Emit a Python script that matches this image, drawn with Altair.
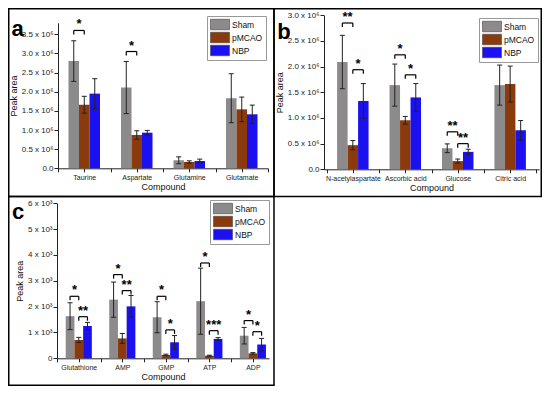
import altair as alt
import pandas as pd

series = ["Sham", "pMCAO", "NBP"]
series_colors = ["#8d8a8c", "#8b3a0e", "#1a10f0"]

# ---- panel a (peak area, units of 10^6) ----
a_compounds = ["Taurine", "Aspartate", "Glutamine", "Glutamate"]
a_sham = [2.80, 2.11, 0.21, 1.83]
a_sham_err = [0.53, 0.68, 0.09, 0.64]
a_pmcao = [1.66, 0.87, 0.165, 1.54]
a_pmcao_err = [0.22, 0.11, 0.03, 0.32]
a_nbp = [1.95, 0.93, 0.19, 1.41]
a_nbp_err = [0.39, 0.06, 0.05, 0.24]
# (compound index, first series, second series, bracket level, label)
a_sig = [(0, 0, 1, 3.60, "*"), (1, 0, 1, 3.05, "*")]

# ---- panel b (peak area, units of 10^6) ----
b_compounds = ["N-acetylaspartate", "Ascorbic acid", "Glucose", "Citric acid"]
b_sham = [2.09, 1.64, 0.41, 1.64]
b_sham_err = [0.52, 0.41, 0.085, 0.39]
b_pmcao = [0.47, 0.955, 0.16, 1.66]
b_pmcao_err = [0.09, 0.075, 0.04, 0.35]
b_nbp = [1.33, 1.40, 0.34, 0.76]
b_nbp_err = [0.34, 0.27, 0.05, 0.19]
b_sig = [(0, 0, 1, 2.85, "**"), (0, 1, 2, 1.94, "*"),
         (1, 0, 1, 2.23, "*"), (1, 1, 2, 1.84, "*"),
         (2, 0, 1, 0.73, "**"), (2, 1, 2, 0.50, "**")]

# ---- panel c (peak area, units of 10^3) ----
c_compounds = ["Glutathione", "AMP", "GMP", "ATP", "ADP"]
c_sham = [1.63, 2.27, 1.59, 2.21, 0.875]
c_sham_err = [0.52, 0.68, 0.60, 1.28, 0.32]
c_pmcao = [0.71, 0.77, 0.13, 0.10, 0.19]
c_pmcao_err = [0.10, 0.19, 0.03, 0.02, 0.03]
c_nbp = [1.25, 2.01, 0.62, 0.75, 0.53]
c_nbp_err = [0.14, 0.42, 0.26, 0.05, 0.24]
c_sig = [(0, 0, 1, 2.40, "*"), (0, 1, 2, 1.61, "**"),
         (1, 0, 1, 3.24, "*"), (1, 1, 2, 2.62, "**"),
         (2, 0, 1, 2.40, "*"), (2, 1, 2, 1.10, "*"),
         (3, 0, 1, 3.69, "*"), (3, 1, 2, 1.07, "***"),
         (4, 0, 1, 1.46, "*"), (4, 1, 2, 1.03, "*")]

BAR_W = 0.2
W, H = 534, 378


def frames(compounds, means, errs, sig):
    rows = []
    for si, s in enumerate(series):
        for gi, c in enumerate(compounds):
            cx = gi + (si - 1) * BAR_W
            m, e = means[si][gi], errs[si][gi]
            rows.append(dict(series=s, compound=c, cx=cx, x0=cx - BAR_W / 2,
                             x1=cx + BAR_W / 2, mean=m, lo=m - e, hi=m + e))
    br, legs = [], []
    for gi, s1, s2, level, label in sig:
        x0 = gi + (s1 - 1) * BAR_W
        x1 = gi + (s2 - 1) * BAR_W
        br.append(dict(x0=x0, x1=x1, xm=(x0 + x1) / 2, level=level, label=label))
        legs.append(dict(x=x0, level=level))
        legs.append(dict(x=x1, level=level))
    return pd.DataFrame(rows), pd.DataFrame(br), pd.DataFrame(legs)


def make_panel(compounds, means, errs, sig, ydom, yvals, ylab, xdom,
               xrange, yrange, leg_xy):
    bars, br, legs = frames(compounds, means, errs, sig)
    xs = alt.Scale(domain=xdom, range=xrange, nice=False, zero=False)
    ys = alt.Scale(domain=ydom, range=yrange, nice=False, zero=False)
    names = "[" + ",".join("'" + c + "'" for c in compounds) + "]"
    xticks = [i * 0.5 - 0.5 for i in range(2 * len(compounds) + 1)]
    xaxis = alt.Axis(values=xticks, title="Compound", grid=False, orient="bottom",
                     offset=yrange[0] - H, position=0,
                     labelExpr="datum.value % 1 === 0 ? " + names + "[datum.value] : ''",
                     labelOverlap=False, labelFlush=False, labelAngle=0,
                     labelFontSize=7, tickSize=3.5, labelPadding=2, titlePadding=2)
    yaxis = alt.Axis(values=yvals, labelExpr=ylab, title="Peak area", grid=False,
                     orient="left", offset=-xrange[0], position=0,
                     labelFontSize=8, tickSize=4, labelPadding=1, titlePadding=3,
                     labelFlush=False, labelOverlap=False)
    bar = alt.Chart(bars).mark_bar().encode(
        x=alt.X("x0:Q", scale=xs, axis=xaxis),
        x2="x1:Q",
        y=alt.Y("mean:Q", scale=ys, axis=yaxis, stack=None),
        y2=alt.datum(0),
        color=alt.Color("series:N",
                        scale=alt.Scale(domain=series, range=series_colors),
                        legend=alt.Legend(orient="none", legendX=leg_xy[0],
                                          legendY=leg_xy[1], title=None,
                                          symbolType="M-1,-1.05H2.8V1.05H-1Z",
                                          symbolSize=100, labelFontSize=8.5,
                                          labelColor="#111",
                                          strokeColor="#999", padding=3,
                                          rowPadding=0, labelOffset=11,
                                          symbolStrokeWidth=0.6,
                                          symbolStrokeColor="#444",
                                          symbolOpacity=1)),
    )
    xq = alt.X("cx:Q", scale=xs, axis=xaxis)
    err = alt.Chart(bars).mark_rule(color="#222", strokeWidth=1).encode(
        x=xq, y=alt.Y("lo:Q", scale=ys, axis=yaxis), y2="hi:Q")
    cap_lo = alt.Chart(bars).mark_rule(color="#222", strokeWidth=1, xOffset=-2.5,
                                       x2Offset=2.5).encode(
        x=xq, x2="cx:Q", y=alt.Y("lo:Q", scale=ys, axis=yaxis))
    cap_hi = alt.Chart(bars).mark_rule(color="#222", strokeWidth=1, xOffset=-2.5,
                                       x2Offset=2.5).encode(
        x=xq, x2="cx:Q", y=alt.Y("hi:Q", scale=ys, axis=yaxis))
    hline = alt.Chart(br).mark_rule(color="black", strokeWidth=1.2).encode(
        x=alt.X("x0:Q", scale=xs, axis=xaxis), x2="x1:Q",
        y=alt.Y("level:Q", scale=ys, axis=yaxis))
    leg = alt.Chart(legs).mark_rule(color="black", strokeWidth=1.2, y2Offset=4).encode(
        x=alt.X("x:Q", scale=xs, axis=xaxis),
        y=alt.Y("level:Q", scale=ys, axis=yaxis), y2="level:Q")
    stars = alt.Chart(br).mark_text(dy=-2, baseline="alphabetic", fontSize=13,
                                    fontWeight="bold", color="black").encode(
        x=alt.X("xm:Q", scale=xs, axis=xaxis),
        y=alt.Y("level:Q", scale=ys, axis=yaxis), text="label:N")
    return alt.layer(bar, err, cap_lo, cap_hi, hline, leg, stars)


one = alt.Data(values=[{}])


def frame(l, t, r, b):
    return alt.Chart(one).mark_rect(fill="white", fillOpacity=0, stroke="black",
                                    strokeWidth=1.5).encode(
        x=alt.value(l), x2=alt.value(r), y=alt.value(t), y2=alt.value(b))


def tag(s, x, y):
    return alt.Chart(one).mark_text(align="center", baseline="alphabetic", fontSize=22,
                                    fontWeight="bold", color="black").encode(
        x=alt.value(x), y=alt.value(y), text=alt.value(s))


lab6 = "datum.value == 0 ? '0.0' : format(datum.value, '.1f') + ' x 10\u2076'"
lab3 = "datum.value == 0 ? '0' : format(datum.value, 'd') + ' x 10\u00b3'"

pa = make_panel(a_compounds, [a_sham, a_pmcao, a_nbp],
                [a_sham_err, a_pmcao_err, a_nbp_err], a_sig,
                [0, 3.8], [i * 0.5 for i in range(8)], lab6,
                [-0.5, 3.5], [50, 260], [160.3, 14.8], (199, 8))
pb = make_panel(b_compounds, [b_sham, b_pmcao, b_nbp],
                [b_sham_err, b_pmcao_err, b_nbp_err], b_sig,
                [0, 3.0], [i * 0.5 for i in range(7)], lab6,
                [-0.55, 3.55], [316, 531], [161.3, 7.3], (471, 10))
pc = make_panel(c_compounds, [c_sham, c_pmcao, c_nbp],
                [c_sham_err, c_pmcao_err, c_nbp_err], c_sig,
                [0, 6], list(range(7)), lab3,
                [-0.5, 4.37], [49, 261], [350.3, 195.3], (202, 192))

chart = alt.layer(
    frame(0.75, 0.75, 266, 188.5),
    frame(266, 0.75, 533.25, 188.5),
    frame(0.75, 188.5, 266, 377.25),
    pa, pb, pc,
    tag("a", 9.5, 28), tag("b", 276, 31), tag("c", 10, 211),
).resolve_scale(x="independent", y="independent", color="independent").properties(
    width=W, height=H, padding=0).configure_view(
    strokeWidth=0).configure(font="Liberation Sans").configure_axis(
    domainColor="#222", tickColor="#222", labelColor="#222", titleColor="#111",
    titleFontSize=9, titleFontWeight="normal")

chart.save("out.html", embed_options={"renderer": "svg", "actions": False})
